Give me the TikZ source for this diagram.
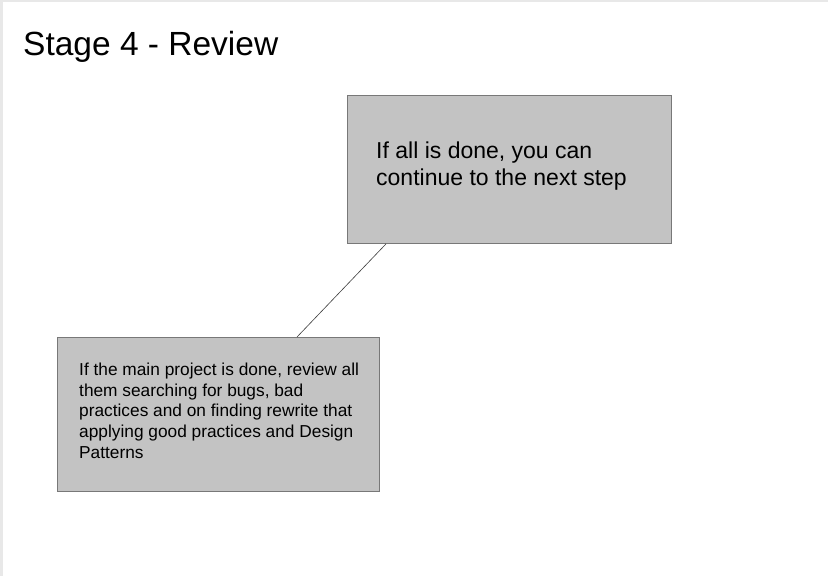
\documentclass[tikz,border=0pt]{standalone}
\usepackage{fontspec}
\setmainfont{Liberation Sans}
\definecolor{boxfill}{RGB}{195,195,195}
\definecolor{boxline}{RGB}{120,120,120}
\definecolor{edgegray}{RGB}{232,232,232}
\definecolor{linkgray}{RGB}{60,60,60}
\begin{document}
\begin{tikzpicture}[x=1pt,y=-1pt,
  card/.style={draw=boxline,fill=boxfill,line width=0.9pt,inner sep=0pt,anchor=north west},
  label/.style={anchor=north west,inner sep=0pt,align=left,text=black},
  link/.style={draw=linkgray,line width=0.6pt}]
\useasboundingbox (0,0) rectangle (828,576);
\fill[white] (0,0) rectangle (828,576);
\fill[edgegray] (0,0) rectangle (828,2);
\fill[edgegray] (0,0) rectangle (3,576);
\node[anchor=base west,inner sep=0pt,font=\fontsize{33.5}{40}\selectfont] (title) at (23,55) {Stage 4 - Review};
\node[card,minimum width=324pt,minimum height=148pt] (top) at (347,95) {};
\node[card,minimum width=322pt,minimum height=154pt] (bottom) at (57,337) {};
\node[label,font=\fontsize{23}{27.5}\selectfont] (toptext) at (376,141.5) {If all is done, you can\\continue to the next step};
\node[label,font=\fontsize{17.3}{20.6}\selectfont] (bottomtext) at (79,363) {If the main project is done, review all\\them searching for bugs, bad\\practices and on finding rewrite that\\applying good practices and Design\\Patterns};
\draw[link] ([xshift=39pt]top.south west) -- ([xshift=240pt]bottom.north west);
\end{tikzpicture}
\end{document}
